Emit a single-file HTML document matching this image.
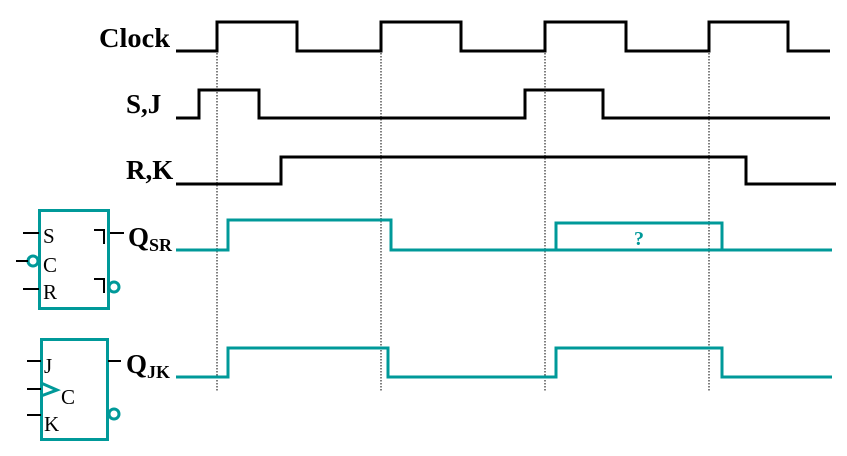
<!DOCTYPE html>
<html><head><style>html,body{margin:0;padding:0;background:#fff}svg{display:block}</style></head><body>
<svg width="847" height="456" viewBox="0 0 847 456" xmlns="http://www.w3.org/2000/svg">
<g font-family="Liberation Serif, serif" font-weight="bold" font-size="27" fill="#000">
<text x="99" y="47" textLength="71" lengthAdjust="spacingAndGlyphs">Clock</text>
<text x="126" y="113">S,J</text>
<text x="126" y="179">R,K</text>
<text x="128" y="246">Q<tspan font-size="18" dy="5">SR</tspan></text>
<text x="126" y="373">Q<tspan font-size="18" dy="5">JK</tspan></text>
</g>
<g stroke="#000" stroke-width="1" stroke-dasharray="1.5,1.5" fill="none">
<line x1="217" y1="50" x2="217" y2="392"/>
<line x1="381" y1="50" x2="381" y2="392"/>
<line x1="545" y1="50" x2="545" y2="392"/>
<line x1="709" y1="50" x2="709" y2="392"/>
</g>
<g stroke="#000" stroke-width="3" fill="none">
<polyline points="176,51 217,51 217,22 297,22 297,51 381,51 381,22 461,22 461,51 545,51 545,22 626,22 626,51 709,51 709,22 788,22 788,51 830,51"/>
<polyline points="176,118 199,118 199,90 259,90 259,118 525,118 525,90 603,90 603,118 830,118"/>
<polyline points="176,184 281,184 281,157 746,157 746,184 836,184"/>
</g>
<g stroke="#009999" stroke-width="3" fill="none">
<polyline points="176,250 228,250 228,220 391,220 391,250 832,250"/>
<polyline points="556,250 556,223 722,223 722,250"/>
<polyline points="176,377 228,377 228,348 388,348 388,377 556,377 556,348 722,348 722,377 832,377"/>
<rect x="39.5" y="210.5" width="69" height="98"/>
<rect x="41.5" y="339.5" width="66" height="100"/>
<circle cx="33" cy="261" r="5"/>
<circle cx="114" cy="287" r="5"/>
<circle cx="114" cy="414" r="5"/>
<polyline points="41,383 57,390 41,396"/>
</g>
<text x="639" y="245" font-family="Liberation Serif, serif" font-weight="bold" font-size="20" fill="#009999" text-anchor="middle">?</text>
<g stroke="#000" stroke-width="2" fill="none">
<line x1="23" y1="233" x2="39" y2="233"/>
<line x1="16" y1="261" x2="28" y2="261"/>
<line x1="23" y1="289" x2="39" y2="289"/>
<polyline points="94,230 104,230 104,244"/>
<polyline points="94,279 104,279 104,293"/>
<line x1="110" y1="233" x2="124" y2="233"/>
<line x1="27" y1="361" x2="41" y2="361"/>
<line x1="27" y1="389" x2="41" y2="389"/>
<line x1="27" y1="415" x2="41" y2="415"/>
<line x1="108" y1="361" x2="121" y2="361"/>
</g>
<g font-family="Liberation Serif, serif" font-size="21" fill="#000">
<text x="43" y="243">S</text>
<text x="43" y="272">C</text>
<text x="43" y="299">R</text>
<text x="44" y="373">J</text>
<text x="61" y="404">C</text>
<text x="44" y="431">K</text>
</g>
</svg>
</body></html>
